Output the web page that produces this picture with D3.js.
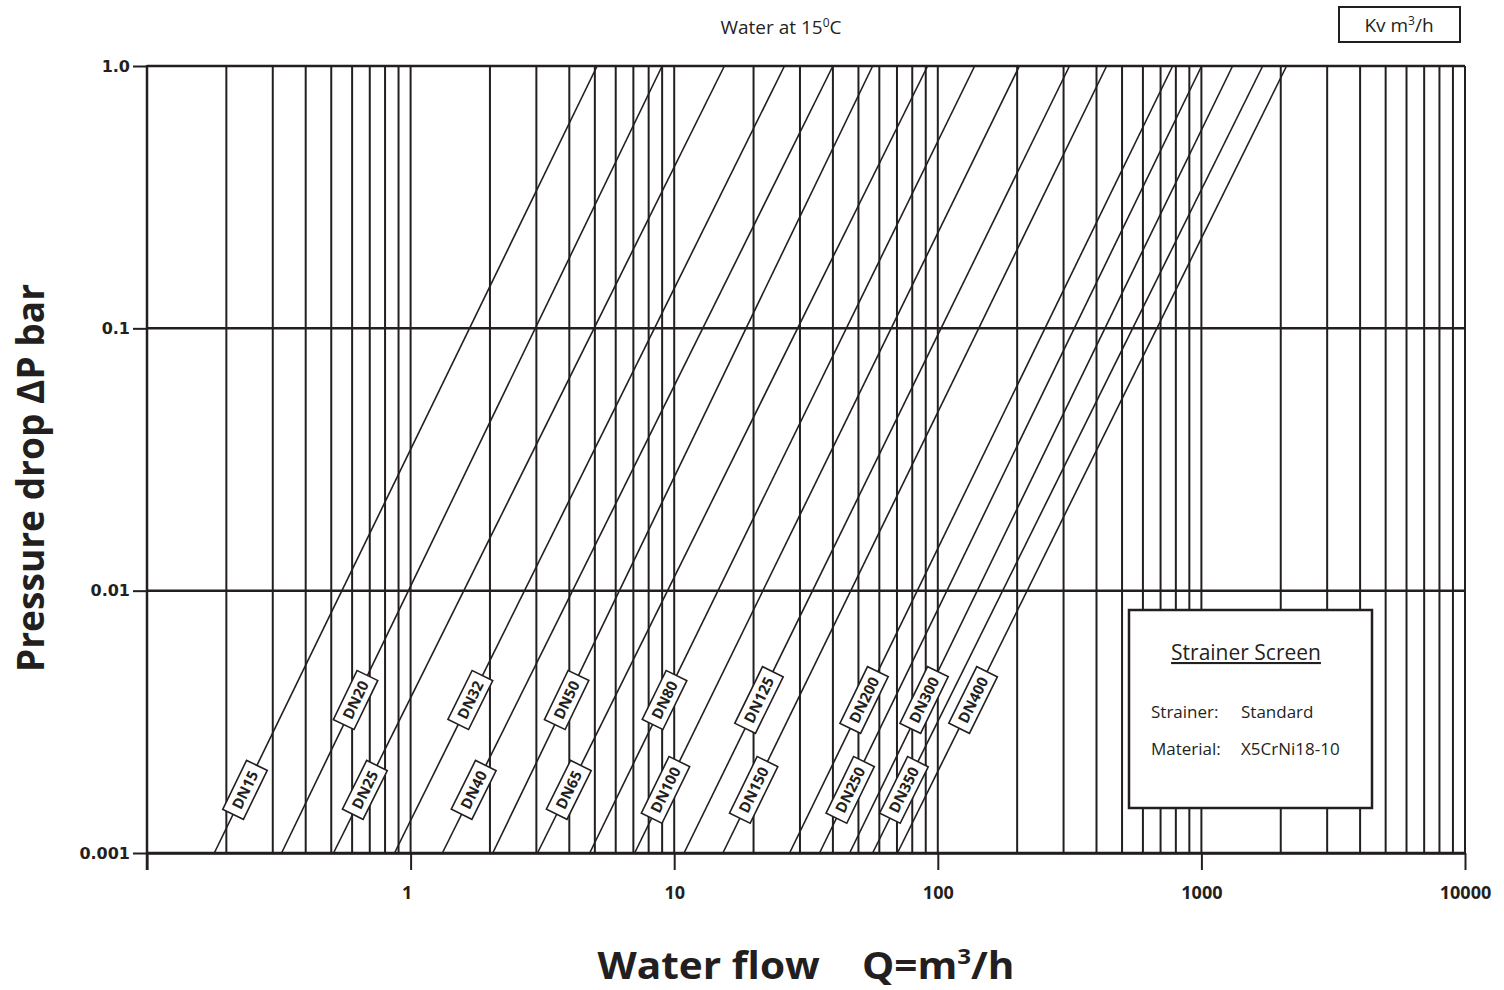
<!DOCTYPE html>
<html>
<head>
<meta charset="utf-8">
<script src="https://cdn.jsdelivr.net/npm/d3@7"></script>
<style>
  body { margin: 0; background: #fff; }
  svg { display: block; }
  text { fill: #231f20; }
</style>
</head>
<body>
<svg id="chart" width="1504" height="990"></svg>
<script>
// strainer sizes and where each line meets the bottom (0.001 bar) and top (1.0 bar) of the grid
var sizes = ["DN15","DN20","DN25","DN32","DN40","DN50","DN65","DN80","DN100","DN125","DN150","DN200","DN250","DN300","DN350","DN400"];
var flowAtMin = [0.18, 0.324, 0.51, 0.869, 1.32, 2.05, 3.03, 4.78, 7.08, 10.9, 15.3, 27.4, 35.6, 46.3, 56.6, 70.3];
var flowAtMax = [5.1, 9.0, 15.5, 26.2, 40, 56.6, 91.5, 138, 204, 316, 437, 778, 1002, 1313, 1708, 2104];
// pressure drop at which the size tag sits on its line
var tagDrop = [0.00174, 0.00383, 0.00174, 0.00383, 0.00174, 0.00383, 0.00174, 0.00383,
               0.00174, 0.00383, 0.00174, 0.00383, 0.00174, 0.00383, 0.00174, 0.00383];

var dropTicks = [0.001, 0.01, 0.1, 1];
var dropLabels = ["0.001", "0.01", "0.1", "1.0"];
var flowTicks = [0.1, 1, 10, 100, 1000, 10000];
var flowLabels = ["", "1", "10", "100", "1000", "10000"];

var ink = "#231f20";
var svg = d3.select("#chart");

var x = d3.scaleLog().domain([0.1, 10000]).range([147, 1465]);
var y = d3.scaleLog().domain([0.001, 1]).range([853, 66]);

var grid = svg.append("g").attr("class", "grid");

// vertical grid, every 1..9 of each decade
grid.selectAll("line.v")
  .data(x.ticks())
  .enter().append("line")
  .attr("class", "v")
  .attr("x1", function(d) { return x(d); })
  .attr("x2", function(d) { return x(d); })
  .attr("y1", y(1))
  .attr("y2", y(0.001))
  .attr("stroke", ink)
  .attr("stroke-width", 2);

// horizontal grid at decades only
grid.selectAll("line.h")
  .data(dropTicks)
  .enter().append("line")
  .attr("class", "h")
  .attr("x1", x(0.1))
  .attr("x2", x(10000))
  .attr("y1", function(d) { return y(d); })
  .attr("y2", function(d) { return y(d); })
  .attr("stroke", ink)
  .attr("stroke-width", 2.5);

// the Kv lines
var series = sizes.map(function(s, i) {
  return { name: s, pts: [[flowAtMin[i], 0.001], [flowAtMax[i], 1]], tag: tagDrop[i] };
});

var line = d3.line()
  .x(function(d) { return x(d[0]); })
  .y(function(d) { return y(d[1]); });

svg.append("g").selectAll("path")
  .data(series)
  .enter().append("path")
  .attr("d", function(d) { return line(d.pts); })
  .attr("fill", "none")
  .attr("stroke", ink)
  .attr("stroke-width", 1.6);

// axes
var xAxis = svg.append("g")
  .attr("transform", "translate(0," + y(0.001) + ")")
  .call(d3.axisBottom(x)
    .tickValues(flowTicks)
    .tickFormat(function(d, i) { return flowLabels[i]; })
    .tickSize(17)
    .tickSizeOuter(0)
    .tickPadding(16));
xAxis.select(".domain").attr("stroke", ink).attr("stroke-width", 2.5);
xAxis.selectAll(".tick line").attr("stroke", ink).attr("stroke-width", 2);
xAxis.selectAll(".tick text")
  .attr("fill", ink)
  .style("font-family", "'Open Sans', sans-serif")
  .style("font-weight", "700")
  .style("font-size", "18px");
xAxis.selectAll(".tick text").filter(function(d) { return d === 1; }).attr("dx", -4);

var yAxis = svg.append("g")
  .attr("transform", "translate(" + x(0.1) + ",0)")
  .call(d3.axisLeft(y)
    .tickValues(dropTicks)
    .tickFormat(function(d, i) { return dropLabels[i]; })
    .tickSize(14)
    .tickSizeOuter(0)
    .tickPadding(3));
yAxis.select(".domain").remove();
yAxis.selectAll(".tick line").attr("stroke", ink).attr("stroke-width", 2);
yAxis.selectAll(".tick text")
  .attr("fill", ink)
  .style("font-family", "'DejaVu Sans', sans-serif")
  .style("font-weight", "700")
  .style("font-size", "16px");
svg.append("line")
  .attr("x1", x(0.1)).attr("x2", x(0.1))
  .attr("y1", y(1) - 1).attr("y2", y(0.001) + 17)
  .attr("stroke", ink).attr("stroke-width", 2.5);

// size tags along the lines
var tags = svg.append("g").selectAll("g")
  .data(series)
  .enter().append("g")
  .attr("transform", function(d) {
    var p0 = d.pts[0], p1 = d.pts[1];
    var ang = Math.atan2(y(p1[1]) - y(p0[1]), x(p1[0]) - x(p0[0])) * 180 / Math.PI;
    // position on the line at the tag pressure drop
    var t = (Math.log(d.tag) - Math.log(p0[1])) / (Math.log(p1[1]) - Math.log(p0[1]));
    var q = Math.exp(Math.log(p0[0]) + t * (Math.log(p1[0]) - Math.log(p0[0])));
    return "translate(" + x(q) + "," + y(d.tag) + ") rotate(" + ang + ")";
  });

tags.append("rect")
  .attr("fill", "#fff")
  .attr("stroke", ink)
  .attr("stroke-width", 1.6);

tags.append("text")
  .attr("text-anchor", "middle")
  .attr("dy", "0.36em")
  .style("font-family", "'Open Sans', sans-serif")
  .style("font-weight", "700")
  .style("font-size", "15px")
  .text(function(d) { return d.name; });

tags.each(function() {
  var g = d3.select(this);
  var w = g.select("text").node().getComputedTextLength() + 14;
  g.select("rect")
    .attr("x", -w / 2).attr("y", -11.5)
    .attr("width", w).attr("height", 23);
});

// titles
svg.append("text")
  .attr("x", 781).attr("y", 34)
  .attr("text-anchor", "middle")
  .style("font-family", "'Open Sans', sans-serif")
  .style("font-size", "19px")
  .html("Water at 15<tspan dy='-7' font-size='12'>0</tspan><tspan dy='7'>C</tspan>");

svg.append("rect")
  .attr("x", 1339).attr("y", 7).attr("width", 121).attr("height", 35)
  .attr("fill", "#fff").attr("stroke", ink).attr("stroke-width", 2);
svg.append("text")
  .attr("x", 1399).attr("y", 32)
  .attr("text-anchor", "middle")
  .style("font-family", "'Open Sans', sans-serif")
  .style("font-size", "19px")
  .html("Kv m<tspan dy='-7' font-size='12'>3</tspan><tspan dy='7'>/h</tspan>");

svg.append("text")
  .attr("transform", "translate(44,478) rotate(-90)")
  .attr("text-anchor", "middle")
  .attr("textLength", 388)
  .attr("lengthAdjust", "spacingAndGlyphs")
  .style("font-family", "'Open Sans', sans-serif")
  .style("font-weight", "700")
  .style("font-size", "38px")
  .text("Pressure drop \u0394P bar");

svg.append("text")
  .attr("x", 806).attr("y", 979)
  .attr("text-anchor", "middle")
  .attr("textLength", 417)
  .attr("lengthAdjust", "spacingAndGlyphs")
  .style("font-family", "'Open Sans', sans-serif")
  .style("font-weight", "700")
  .style("font-size", "37px")
  .html("Water flow\u00a0\u00a0\u00a0\u00a0Q=m<tspan dy='-15' font-size='22'>3</tspan><tspan dy='15'>/h</tspan>");

// note box
var note = svg.append("g");
note.append("rect")
  .attr("x", 1129).attr("y", 610).attr("width", 243).attr("height", 198)
  .attr("fill", "#fff").attr("stroke", ink).attr("stroke-width", 2.5);
note.append("text")
  .attr("x", 1246).attr("y", 660)
  .attr("text-anchor", "middle")
  .style("font-family", "'Open Sans', sans-serif")
  .style("font-size", "21px")
  .style("text-decoration", "underline")
  .text("Strainer Screen");
var rows = [["Strainer:", "Standard", 718], ["Material:", "X5CrNi18-10", 755]];
rows.forEach(function(r) {
  note.append("text").attr("x", 1151).attr("y", r[2])
    .style("font-family", "'Open Sans', sans-serif").style("font-size", "17px")
    .text(r[0]);
  note.append("text").attr("x", 1241).attr("y", r[2])
    .style("font-family", "'Open Sans', sans-serif").style("font-size", "17px")
    .text(r[1]);
});
</script>
</body>
</html>
